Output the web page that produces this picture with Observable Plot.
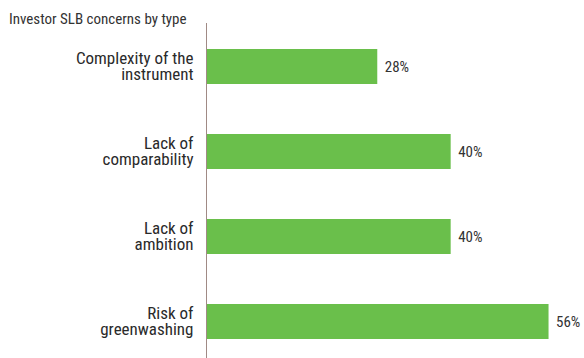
<!DOCTYPE html>
<html>
<head>
<meta charset="utf-8">
<script src="https://cdn.jsdelivr.net/npm/d3@7"></script>
<script src="https://cdn.jsdelivr.net/npm/@observablehq/plot@0.6"></script>
<style>
  body { margin: 0; background: #fff; font-family: "Liberation Sans Narrow", "Roboto Condensed", "Liberation Sans", Arial, sans-serif; }
  #wrap { position: relative; width: 584px; height: 358px; }
  #title { position: absolute; top: 11px; left: 9px; font-size: 15px; line-height: 17px; color: #333; z-index: 2; }
  #chart { position: absolute; top: 23px; left: 0; z-index: 1; }
</style>
</head>
<body>
<div id="wrap">
  <div id="title">Investor SLB concerns by type</div>
  <div id="chart"></div>
</div>
<script>
const categories = ["Complexity of the\ninstrument", "Lack of\ncomparability", "Lack of\nambition", "Risk of\ngreenwashing"];
const values = [28, 40, 40, 56];
const valueLabels = ["28%", "40%", "40%", "56%"];

const data = categories.map((c, i) => ({category: c, value: values[i], label: valueLabels[i]}));

const chart = Plot.plot({
  width: 584,
  height: 335,
  marginLeft: 206,
  marginRight: 11,
  marginTop: 25,
  marginBottom: 18,
  style: {fontFamily: '"Liberation Sans Narrow", "Roboto Condensed", "Liberation Sans", Arial, sans-serif', background: "transparent", color: "#333"},
  x: {domain: [0, 60], axis: null},
  y: {domain: categories, paddingInner: 0.59, paddingOuter: 0, label: null},
  marks: [
    Plot.barX(data, {x: "value", y: "category", fill: "#6abf4b"}),
    Plot.ruleX([0], {stroke: "#a08a85", strokeWidth: 1, insetTop: -25, insetBottom: -18}),
    Plot.text(data, {x: "value", y: "category", text: "label", textAnchor: "start", dx: 7, fontSize: 15, fill: "#333"}),
    Plot.axisY({tickSize: 0, tickPadding: 13, fontSize: 17, lineHeight: 0.93, fill: "#2a2a2a", label: null})
  ]
});
document.getElementById("chart").appendChild(chart);
</script>
</body>
</html>
